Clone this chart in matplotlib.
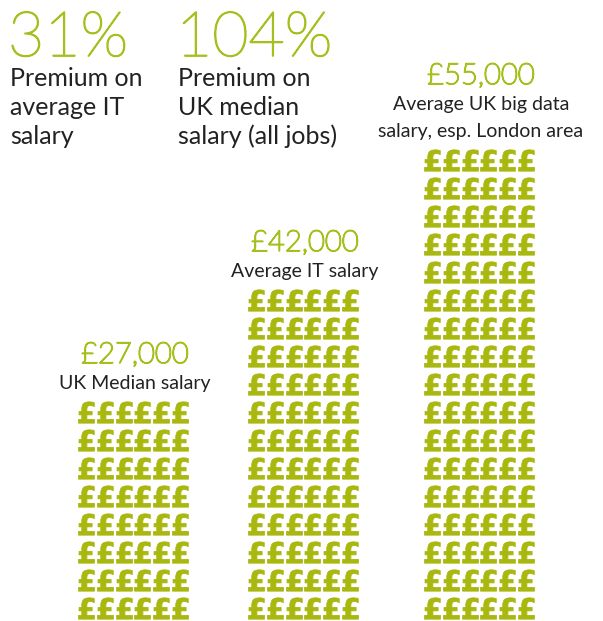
import matplotlib
matplotlib.use("Agg")
import matplotlib.pyplot as plt
import matplotlib.patheffects as pe

# data
salaries = ["£27,000", "£42,000", "£55,000"]
salary_labels = [["UK Median salary"],
                 ["Average IT salary"],
                 ["Average UK big data", "salary, esp. London area"]]
pound_rows = [8, 12, 17]
pounds_per_row = 6

premiums = ["31%", "104%"]
premium_labels = [["Premium on", "average IT", "salary"],
                  ["Premium on", "UK median", "salary (all jobs)"]]

GREEN_TEXT = "#a6bf1c"
GREEN_ICON = "#a9b80f"
DARK = "#222222"

plt.rcParams['font.family'] = ['Lato', 'DejaVu Sans']
plt.rcParams['mathtext.fontset'] = 'dejavusans'

fig = plt.figure(figsize=(6.03, 6.21), dpi=100)
ax = fig.add_axes([0, 0, 1, 1])
ax.set_xlim(0, 603)
ax.set_ylim(621, 0)
ax.axis('off')

# hairline weight thickened a bit by a stroke -> looks like a light face
thin = [pe.withStroke(linewidth=1.1, foreground=GREEN_TEXT)]

# premium headlines top left
premium_x = [8, 176]
for px, big, lines in zip(premium_x, premiums, premium_labels):
    ax.text(px, 56, big, color=GREEN_TEXT, fontsize=45, fontweight=100,
            ha='left', va='baseline', path_effects=thin)
    for i, line in enumerate(lines):
        ax.text(px + 2, 86 + i * 29, line, color=DARK, fontsize=18,
                ha='left', va='baseline')

# pound pictograms
col_centers = [133, 303, 479]
bottom_row = 608
row_pitch = 28
glyph_pitch = 18.7

for cx, n_rows, value, lines in zip(col_centers, pound_rows, salaries, salary_labels):
    xs, ys = [], []
    for r in range(n_rows):
        for k in range(pounds_per_row):
            xs.append(cx + (k - (pounds_per_row - 1) / 2) * glyph_pitch)
            ys.append(bottom_row - r * row_pitch)
    ax.scatter(xs, ys, marker=r'$\mathbf{£}$', s=235, color=GREEN_ICON,
               edgecolors=GREEN_ICON, linewidths=0.6)
    top = bottom_row - (n_rows - 1) * row_pitch - 10
    last_base = top - 13
    first_base = last_base - (len(lines) - 1) * 27
    for i, line in enumerate(lines):
        ax.text(cx + 2, first_base + i * 27, line, color=DARK, fontsize=14,
                ha='center', va='baseline')
    ax.text(cx + 2, first_base - 26, value, color=GREEN_TEXT, fontsize=21,
            fontweight=100, ha='center', va='baseline', path_effects=thin)

fig.savefig("out.png", dpi=100, facecolor='white')
